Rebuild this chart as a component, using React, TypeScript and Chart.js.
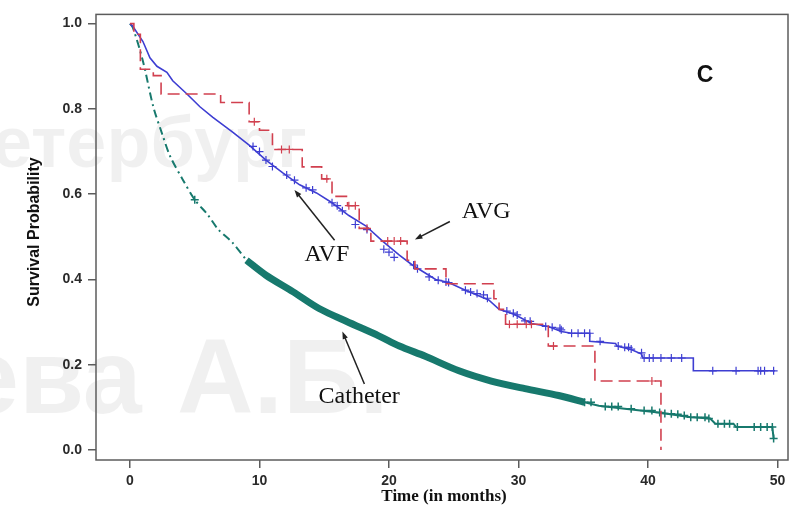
import React, { useEffect, useRef } from "react";
import { Chart, registerables } from "chart.js";
Chart.register(...registerables);

// ---- axis ticks ----
const xTicks = [0, 10, 20, 30, 40, 50];
const yTicks = [0, 0.2, 0.4, 0.6, 0.8, 1.0];

// ---- AVF (solid blue) ----
const avfTime = [0, 0.23, 1.0, 1.54, 2.08, 2.85, 3.3, 4.4, 5.4, 6.4, 7.9, 9.2, 10.5, 11.8, 13.1, 14.4, 15.6, 16.9, 18.2, 19.5, 20.8, 21.8, 23.6, 24.6, 25.9, 27.7, 28.5, 29.7, 31.0, 32.3, 33.3, 34.1, 35.5, 35.5, 37.5, 37.6, 38.7, 39.5, 39.6, 43.5, 43.5, 49.8];
const avfSurv = [1.0, 0.993, 0.958, 0.92, 0.9, 0.886, 0.866, 0.835, 0.805, 0.78, 0.746, 0.715, 0.68, 0.65, 0.622, 0.603, 0.58, 0.55, 0.526, 0.49, 0.457, 0.434, 0.4, 0.393, 0.375, 0.352, 0.33, 0.318, 0.297, 0.29, 0.278, 0.274, 0.274, 0.255, 0.25, 0.244, 0.236, 0.225, 0.216, 0.216, 0.186, 0.186];
const avfCensorTime = [9.5, 10.0, 10.5, 11.0, 12.1, 12.7, 13.6, 14.1, 15.6, 16.0, 16.4, 17.4, 18.3, 19.6, 20.0, 20.4, 21.9, 22.2, 23.1, 23.8, 24.4, 24.6, 25.9, 26.3, 26.8, 27.3, 27.6, 29.1, 29.6, 29.9, 30.5, 30.9, 32.1, 32.6, 33.2, 33.3, 34.1, 34.6, 35.1, 35.5, 36.3, 37.7, 38.2, 38.5, 38.7, 39.5, 39.7, 40.1, 40.4, 41.0, 41.8, 42.6, 45.0, 46.8, 48.5, 48.7, 49.0, 49.7];
const avfCensorSurv = [0.712, 0.7, 0.68, 0.665, 0.645, 0.633, 0.615, 0.61, 0.58, 0.573, 0.561, 0.529, 0.517, 0.471, 0.464, 0.452, 0.434, 0.425, 0.406, 0.398, 0.394, 0.393, 0.375, 0.371, 0.367, 0.364, 0.356, 0.326, 0.321, 0.317, 0.303, 0.302, 0.29, 0.288, 0.286, 0.282, 0.274, 0.274, 0.274, 0.274, 0.255, 0.244, 0.241, 0.241, 0.237, 0.228, 0.216, 0.216, 0.216, 0.216, 0.216, 0.216, 0.186, 0.186, 0.186, 0.186, 0.186, 0.186];

// ---- AVG (dashed red, step) ----
const avgTime = [0, 0.3, 0.8, 1.8, 2.4, 7.0, 9.2, 10.0, 11.0, 13.3, 14.8, 15.6, 16.8, 17.7, 18.6, 21.4, 22.0, 24.4, 28.1, 28.5, 29.0, 32.3, 35.9, 41.0];
const avgSurv = [1.0, 0.975, 0.893, 0.878, 0.835, 0.815, 0.77, 0.75, 0.705, 0.664, 0.636, 0.595, 0.573, 0.52, 0.49, 0.445, 0.425, 0.39, 0.355, 0.33, 0.295, 0.244, 0.162, 0.0];
const avgCensorTime = [9.6, 11.7, 12.3, 15.2, 16.9, 17.4, 18.3, 19.9, 20.4, 20.9, 29.3, 29.9, 30.6, 31.0, 32.7, 40.3];
const avgCensorSurv = [0.77, 0.705, 0.705, 0.636, 0.573, 0.573, 0.52, 0.49, 0.49, 0.49, 0.295, 0.295, 0.295, 0.295, 0.244, 0.162];

// ---- Catheter (teal) ----
const cathEarlyTime = [0, 0.23, 1.0, 1.8, 2.5, 3.1, 4.1, 5.0, 6.0, 6.8, 7.9, 9.0];
const cathEarlySurv = [1.0, 0.99, 0.912, 0.805, 0.74, 0.689, 0.633, 0.587, 0.552, 0.518, 0.487, 0.445];
const cathBandTime = [9.0, 10.5, 12.6, 14.6, 16.7, 19.2, 20.8, 22.8, 25.4, 27.9, 30.5, 33.1, 35.1];
const cathBandSurv = [0.445, 0.41, 0.371, 0.332, 0.302, 0.268, 0.244, 0.22, 0.186, 0.162, 0.144, 0.128, 0.112];
const cathTailTime = [35.1, 36.2, 38.2, 40.8, 43.3, 44.8, 45.2, 46.6, 46.8, 49.6, 49.7];
const cathTailSurv = [0.112, 0.104, 0.097, 0.088, 0.077, 0.074, 0.062, 0.062, 0.054, 0.054, 0.027];
const cathCensorTime = [5.0, 35.1, 35.6, 36.7, 37.2, 37.7, 38.7, 39.7, 40.3, 40.9, 41.3, 41.8, 42.3, 42.8, 43.3, 43.8, 44.4, 44.7, 45.4, 45.9, 46.3, 46.9, 48.2, 48.7, 49.2, 49.6, 49.7];
const cathCensorSurv = [0.587, 0.112, 0.112, 0.102, 0.102, 0.102, 0.097, 0.093, 0.093, 0.088, 0.086, 0.085, 0.084, 0.081, 0.077, 0.077, 0.077, 0.074, 0.062, 0.062, 0.062, 0.054, 0.054, 0.054, 0.054, 0.054, 0.027];

// ---- annotations (data coordinates) ----
const labelTexts = ["AVG", "AVF", "Catheter"];
const labelX = [27.5, 15.2, 17.7];
const labelY = [0.559, 0.459, 0.125];
const arrowFromX = [24.7, 15.8, 18.1];
const arrowFromY = [0.536, 0.492, 0.155];
const arrowToX = [22.0, 12.7, 16.4];
const arrowToY = [0.494, 0.61, 0.278];
const panelLetter = "C";
const panelX = 44.4;
const panelY = 0.877;

const xTitle = "Time (in months)";
const yTitle = "Survival Probability";

const RED = "#d1404f";
const BLUE = "#3e3ed2";
const TEAL = "#17796d";

const pts = (xs: number[], ys: number[]) => xs.map((x, i) => ({ x, y: ys[i] }));

const overlayPlugin = {
  id: "overlay",
  beforeDraw(chart: any) {
    const ctx = chart.ctx;
    ctx.save();
    ctx.fillStyle = "rgba(0,0,0,0.06)";
    ctx.textBaseline = "alphabetic";
    ctx.textAlign = "left";
    ctx.font = 'bold 72px "Liberation Sans", Arial, sans-serif';
    ctx.fillText("етербург", -8, 167);
    ctx.font = 'bold 106px "Liberation Sans", Arial, sans-serif';
    ctx.fillText("ева", -40, 413);
    ctx.fillText("А.Б.", 177, 413);
    ctx.restore();
  },
  afterDraw(chart: any) {
    const ctx = chart.ctx;
    const a = chart.chartArea;
    const xs = chart.scales.x;
    const ys = chart.scales.y;
    ctx.save();
    // frame
    ctx.strokeStyle = "#5c5c5c";
    ctx.lineWidth = 1.5;
    ctx.strokeRect(a.left, a.top, a.right - a.left, a.bottom - a.top);
    // axis titles
    ctx.fillStyle = "#111";
    ctx.textAlign = "center";
    ctx.textBaseline = "middle";
    ctx.font = 'bold 17px "Liberation Serif", "Times New Roman", serif';
    ctx.fillText(xTitle, 444, 497);
    ctx.save();
    ctx.translate(35, 232);
    ctx.rotate(-Math.PI / 2);
    ctx.font = 'bold 16px "Liberation Sans", Arial, sans-serif';
    ctx.fillText(yTitle, 0, 0);
    ctx.restore();
    // panel letter
    ctx.font = 'bold 23px "Liberation Sans", Arial, sans-serif';
    ctx.fillText(panelLetter, xs.getPixelForValue(panelX), ys.getPixelForValue(panelY));
    // curve labels
    ctx.font = '24px "Liberation Serif", "Times New Roman", serif';
    labelTexts.forEach((t, i) => {
      ctx.fillText(t, xs.getPixelForValue(labelX[i]), ys.getPixelForValue(labelY[i]));
    });
    // arrows
    ctx.strokeStyle = "#222";
    ctx.fillStyle = "#222";
    ctx.lineWidth = 1.5;
    labelTexts.forEach((_, i) => {
      const x1 = xs.getPixelForValue(arrowFromX[i]);
      const y1 = ys.getPixelForValue(arrowFromY[i]);
      const x2 = xs.getPixelForValue(arrowToX[i]);
      const y2 = ys.getPixelForValue(arrowToY[i]);
      const ang = Math.atan2(y2 - y1, x2 - x1);
      const hl = 8;
      ctx.beginPath();
      ctx.moveTo(x1, y1);
      ctx.lineTo(x2 - Math.cos(ang) * 4, y2 - Math.sin(ang) * 4);
      ctx.stroke();
      ctx.beginPath();
      ctx.moveTo(x2, y2);
      ctx.lineTo(x2 - hl * Math.cos(ang - 0.35), y2 - hl * Math.sin(ang - 0.35));
      ctx.lineTo(x2 - hl * Math.cos(ang + 0.35), y2 - hl * Math.sin(ang + 0.35));
      ctx.closePath();
      ctx.fill();
    });
    ctx.restore();
  },
};

export default function App() {
  const ref = useRef<HTMLCanvasElement | null>(null);
  useEffect(() => {
    if (!ref.current) return;
    const tickFont = { family: '"Liberation Sans", Arial, sans-serif', size: 14, weight: "bold" as const };
    const chart = new Chart(ref.current, {
      type: "line",
      data: {
        datasets: [
          { label: "AVG censor", data: pts(avgCensorTime, avgCensorSurv), showLine: false, pointStyle: "cross", pointRadius: 4, borderColor: RED, borderWidth: 1.2, order: 1 },
          { label: "AVG", data: pts(avgTime, avgSurv), stepped: "before", borderColor: RED, borderWidth: 1.6, borderDash: [12, 6], pointRadius: 0, fill: false, order: 2 },
          { label: "AVF censor", data: pts(avfCensorTime, avfCensorSurv), showLine: false, pointStyle: "cross", pointRadius: 4, borderColor: BLUE, borderWidth: 1.2, order: 3 },
          { label: "AVF", data: pts(avfTime, avfSurv), borderColor: BLUE, borderWidth: 1.6, pointRadius: 0, tension: 0, fill: false, order: 4 },
          { label: "Catheter censor", data: pts(cathCensorTime, cathCensorSurv), showLine: false, pointStyle: "cross", pointRadius: 4, borderColor: TEAL, borderWidth: 1.5, order: 5 },
          { label: "Catheter band", data: pts(cathBandTime, cathBandSurv), borderColor: TEAL, borderWidth: 7, pointRadius: 0, tension: 0.3, fill: false, order: 6 },
          { label: "Catheter tail", data: pts(cathTailTime, cathTailSurv), borderColor: TEAL, borderWidth: 2, pointRadius: 0, fill: false, order: 7 },
          { label: "Catheter early", data: pts(cathEarlyTime, cathEarlySurv), borderColor: TEAL, borderWidth: 2, borderDash: [8, 4, 2, 4], pointRadius: 0, tension: 0.3, fill: false, order: 8 },
        ],
      },
      options: {
        responsive: false,
        animation: false,
        events: [],
        layout: { padding: { left: 0, top: 10, right: 12, bottom: 0 } },
        plugins: { legend: { display: false }, tooltip: { enabled: false }, title: { display: false } },
        scales: {
          x: {
            type: "linear",
            min: -2.625,
            max: 50.81,
            afterBuildTicks: (s: any) => { s.ticks = xTicks.map((v) => ({ value: v })); },
            afterFit: (s: any) => { s.height = 55; },
            ticks: { font: tickFont, color: "#2a2a2a", padding: 5, maxRotation: 0, callback: (v: any) => String(v) },
            grid: { drawOnChartArea: false, drawTicks: true, tickLength: 8, color: "#5c5c5c", lineWidth: 1.5 },
            border: { display: false },
          },
          y: {
            type: "linear",
            min: -0.0232,
            max: 1.0216,
            afterBuildTicks: (s: any) => { s.ticks = yTicks.map((v) => ({ value: v })); },
            afterFit: (s: any) => { s.width = 96; },
            ticks: { font: tickFont, color: "#2a2a2a", padding: 6, callback: (v: any) => Number(v).toFixed(1) },
            grid: { drawOnChartArea: false, drawTicks: true, tickLength: 8, color: "#5c5c5c", lineWidth: 1.5 },
            border: { display: false },
          },
        },
      },
      plugins: [overlayPlugin],
    });
    return () => chart.destroy();
  }, []);
  return (
    <div style={{ position: "absolute", left: 0, top: 0, width: 800, height: 515, background: "#fff" }}>
      <canvas ref={ref} width={800} height={515} style={{ display: "block" }} />
    </div>
  );
}
